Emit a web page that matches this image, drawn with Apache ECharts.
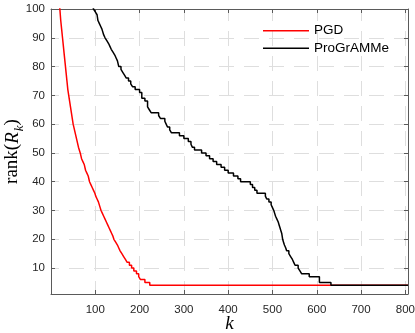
<!DOCTYPE html>
<html><head><meta charset="utf-8">
<script src="https://cdn.jsdelivr.net/npm/echarts@6/dist/echarts.min.js"></script>
<style>html,body{margin:0;padding:0;background:#fff}#c{width:415px;height:333px}</style>
</head><body><div id="c"></div>
<script>
const seriesNames = ['PGD', 'ProGrAMMe'];

const pgdK = [18,20,22,24,26,28,30,32,34,36,38,40,42,44,46,48,50,53,56,59,62,66,69,72,75,78,81,84,87,90,93,96,99,101,104,107,111,113,116,119,122,125,128,131,134,137,140,142,146,150,153,156,160,164,168,172,177,182,187,193,198,202,212,223,806];
const pgdRank = [103,100,96,93,90,87,84,81,78,75,72,70,68,66,64,62,60,58,56,54,52,50,48,47,46,44,43,42,40,39,38,37,36,35,34,33,31,30,29,28,27,26,25,24,23,22,21,20,19,18,17,16,15,14,13,12,11,10,9,8,7,6,5,4,4];

const progK = [94,96,100,104,106,109,112,115,119,122,126,130,133,136,140,144,147,150,153,158,162,166,170,175,180,184,190,195,200,205,212,218,222,226,243,247,257,260,263,268,272,290,300,310,316,319,324,340,350,358,366,374,384,392,400,412,422,428,450,455,460,465,484,487,492,497,500,503,505,507,510,513,515,517,519,521,522,523,525,527,530,532,537,541,545,548,551,558,562,566,583,606,632,806];
const progRank = [101,100,99,98,96,95,94,93,91,90,89,88,87,86,85,84,83,82,80,79,78,77,76,75,74,73,72,72,71,69,68,66,65,64,63,62,61,60,59,58,57,56,55,54,53,52,51,50,49,48,47,46,45,44,43,42,41,40,39,38,37,36,35,34,33,32,31,30,29,28,27,26,25,24,23,22,21,20,19,18,17,16,15,14,13,12,11,10,9,8,7,5,4,4];

const xTicks = [100,200,300,400,500,600,700,800];
const yTicks = [10,20,30,40,50,60,70,80,90,100];

const zip = (ks, vs) => ks.map((k, i) => [k, vs[i]]);

const axisColor = '#5a5a5a';
const labelColor = '#262626';
const gridStyle = {color: '#dedede', width: 1, type: [15, 10]};

const chart = echarts.init(document.getElementById('c'), null, {renderer: 'canvas'});
chart.setOption({
  animation: false,
  backgroundColor: '#fff',
  grid: {left: 51, top: 9, right: 7, bottom: 39, containLabel: false, outerBoundsMode: 'none'},
  legend: {
    data: seriesNames,
    orient: 'vertical',
    left: 263,
    top: 23.7,
    padding: 0,
    icon: 'rect',
    itemWidth: 46,
    itemHeight: 1.5,
    itemGap: 3.6,
    textStyle: {fontFamily: 'Liberation Sans', fontSize: 13.5, color: '#000', lineHeight: 14}
  },
  xAxis: [{
    type: 'value', min: 0, max: 806, position: 'bottom',
    axisLine: {show: true, onZero: false, lineStyle: {color: axisColor, width: 1}},
    axisTick: {show: true, inside: true, length: 4, customValues: xTicks, lineStyle: {color: axisColor}},
    axisLabel: {customValues: xTicks, margin: 10, fontFamily: 'Liberation Sans', fontSize: 11.5, color: labelColor},
    splitLine: {show: true, lineStyle: Object.assign({dashOffset: 3}, gridStyle)},
    name: 'k', nameLocation: 'middle', nameGap: 20, nameMoveOverlap: false,
    nameTextStyle: {fontFamily: 'Liberation Serif', fontStyle: 'italic', fontSize: 19, color: '#000'}
  }, {
    type: 'value', min: 0, max: 806, position: 'top',
    axisLine: {show: true, onZero: false, lineStyle: {color: axisColor, width: 1}},
    axisTick: {show: true, inside: true, length: 4, customValues: xTicks, lineStyle: {color: axisColor}},
    axisLabel: {show: false},
    splitLine: {show: false}
  }],
  yAxis: [{
    type: 'value', min: 1, max: 100, position: 'left',
    axisLine: {show: true, onZero: false, lineStyle: {color: axisColor, width: 1}},
    axisTick: {show: true, inside: true, length: 4, customValues: yTicks, lineStyle: {color: axisColor}},
    axisLabel: {customValues: yTicks, margin: 6, fontFamily: 'Liberation Sans', fontSize: 11.5, color: labelColor},
    splitLine: {show: true, lineStyle: Object.assign({dashOffset: 7}, gridStyle)},
    name: '{a|rank(}{i|R}{s|k}{a|)}', nameLocation: 'middle', nameRotate: 90, nameGap: 28, nameMoveOverlap: false,
    nameTextStyle: {
      rich: {
        a: {fontFamily: 'Liberation Serif', fontSize: 19, color: '#000', lineHeight: 20, verticalAlign: 'top'},
        i: {fontFamily: 'Liberation Serif', fontStyle: 'italic', fontSize: 19, color: '#000', lineHeight: 20, verticalAlign: 'top'},
        s: {fontFamily: 'Liberation Serif', fontStyle: 'italic', fontSize: 13, color: '#000', lineHeight: 13, padding: [10, 0, 0, 1], verticalAlign: 'top'}
      }
    }
  }, {
    type: 'value', min: 1, max: 100, position: 'right',
    axisLine: {show: true, onZero: false, lineStyle: {color: axisColor, width: 1}},
    axisTick: {show: true, inside: true, length: 4, customValues: yTicks, lineStyle: {color: axisColor}},
    axisLabel: {show: false},
    splitLine: {show: false}
  }],
  series: [{
    name: seriesNames[0], type: 'line', step: 'end', symbol: 'none', clip: true,
    xAxisIndex: 0, yAxisIndex: 0,
    lineStyle: {color: '#ff0000', width: 1.5}, itemStyle: {color: '#ff0000'},
    data: zip(pgdK, pgdRank)
  }, {
    name: seriesNames[1], type: 'line', step: 'end', symbol: 'none', clip: true,
    xAxisIndex: 0, yAxisIndex: 0,
    lineStyle: {color: '#000000', width: 1.5}, itemStyle: {color: '#000000'},
    data: zip(progK, progRank)
  }]
});
</script>
</body></html>
